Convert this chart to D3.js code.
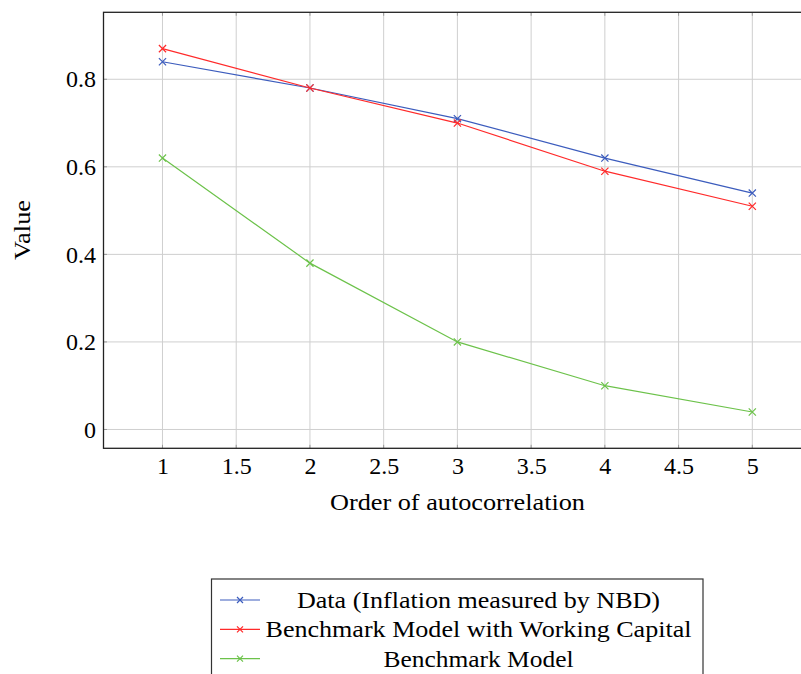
<!DOCTYPE html>
<html>
<head>
<meta charset="utf-8">
<script src="https://cdn.jsdelivr.net/npm/d3@7"></script>
<style>
  html, body { margin: 0; padding: 0; background: #fff; overflow: hidden; }
</style>
</head>
<body>
<svg id="chart" width="801" height="674"></svg>
<script>
// Autocorrelation orders and values of each series
const orders = [1, 2, 3, 4, 5];
const dataSeries = [0.84, 0.78, 0.71, 0.62, 0.54];
const workingCapital = [0.87, 0.78, 0.70, 0.59, 0.51];
const benchmark = [0.62, 0.38, 0.20, 0.10, 0.04];
const seriesNames = [
  "Data (Inflation measured by NBD)",
  "Benchmark Model with Working Capital",
  "Benchmark Model"
];
const seriesColors = ["#3c5cbd", "#ff2a2a", "#6cc24a"];
const xTicks = [1, 1.5, 2, 2.5, 3, 3.5, 4, 4.5, 5];
const yTicks = [0, 0.2, 0.4, 0.6, 0.8];

const series = [dataSeries, workingCapital, benchmark].map((vals, i) => ({
  name: seriesNames[i],
  color: seriesColors[i],
  points: orders.map((o, j) => ({ x: o, y: vals[j] }))
}));

const svg = d3.select("#chart");
const FONT = '"Liberation Serif", serif';
const FS = "24px";

// Plot box; limits are enlarged by 10% of the data range on each side
const box = { left: 103.5, right: 811.3, top: 12.3, bottom: 448.3 };
const allY = series.flatMap(s => s.points.map(p => p.y));
const [yMin, yMax] = d3.extent(allY);
const [xMin, xMax] = d3.extent(orders);
const yPad = (yMax - yMin) * 0.1, xPad = (xMax - xMin) * 0.1;

const x = d3.scaleLinear().domain([xMin - xPad, xMax + xPad]).range([box.left, box.right]);
const y = d3.scaleLinear().domain([yMin - yPad, yMax + yPad]).range([box.bottom, box.top]);

// Grid lines
const grid = svg.append("g").attr("stroke", "#cfcfcf").attr("stroke-width", 1);
grid.selectAll("line.vx").data(xTicks).join("line")
  .attr("x1", d => x(d)).attr("x2", d => x(d))
  .attr("y1", box.top).attr("y2", box.bottom);
grid.selectAll("line.hy").data(yTicks).join("line")
  .attr("x1", box.left).attr("x2", box.right)
  .attr("y1", d => y(d)).attr("y2", d => y(d));

// Inner tick marks on all four sides
const tickLen = 3.5;
const ticks = svg.append("g").attr("stroke", "#9a9a9a").attr("stroke-width", 1);
xTicks.forEach(t => {
  ticks.append("line").attr("x1", x(t)).attr("x2", x(t)).attr("y1", box.bottom).attr("y2", box.bottom - tickLen);
  ticks.append("line").attr("x1", x(t)).attr("x2", x(t)).attr("y1", box.top).attr("y2", box.top + tickLen);
});
yTicks.forEach(t => {
  ticks.append("line").attr("x1", box.left).attr("x2", box.left + tickLen).attr("y1", y(t)).attr("y2", y(t));
  ticks.append("line").attr("x1", box.right).attr("x2", box.right - tickLen).attr("y1", y(t)).attr("y2", y(t));
});

// Axis tick labels via d3 axes (domain and tick lines hidden)
const xAxis = svg.append("g")
  .attr("transform", `translate(0,${box.bottom})`)
  .call(d3.axisBottom(x).tickValues(xTicks).tickSize(0).tickPadding(9).tickFormat(d3.format("")));
xAxis.select(".domain").remove();
xAxis.selectAll("text").attr("dy", "0.71em")
  .style("font-family", FONT).style("font-size", FS).style("fill", "#000");

const yAxis = svg.append("g")
  .attr("transform", `translate(${box.left},0)`)
  .call(d3.axisLeft(y).tickValues(yTicks).tickSize(0).tickPadding(7.5).tickFormat(d3.format("")));
yAxis.select(".domain").remove();
yAxis.selectAll("text")
  .style("font-family", FONT).style("font-size", FS).style("fill", "#000");

// Frame
svg.append("rect")
  .attr("x", box.left).attr("y", box.top)
  .attr("width", box.right - box.left).attr("height", box.bottom - box.top)
  .attr("fill", "none").attr("stroke", "#222").attr("stroke-width", 1.3);

// Series lines and cross markers
const line = d3.line().x(d => x(d.x)).y(d => y(d.y));
const cross = 3.6;
series.forEach(s => {
  svg.append("path").datum(s.points)
    .attr("d", line).attr("fill", "none")
    .attr("stroke", s.color).attr("stroke-width", 1.2);
  svg.append("g").selectAll("path").data(s.points).join("path")
    .attr("d", d => {
      const cx = x(d.x), cy = y(d.y);
      return `M${cx - cross},${cy - cross}L${cx + cross},${cy + cross}M${cx - cross},${cy + cross}L${cx + cross},${cy - cross}`;
    })
    .attr("stroke", s.color).attr("stroke-width", 1.2);
});

// Axis titles
svg.append("text")
  .attr("x", 457.5).attr("y", 510)
  .attr("text-anchor", "middle")
  .style("font-family", FONT).style("font-size", FS)
  .attr("textLength", 255).attr("lengthAdjust", "spacingAndGlyphs")
  .text("Order of autocorrelation");
svg.append("text")
  .attr("transform", "translate(30,230) rotate(-90)")
  .attr("text-anchor", "middle")
  .style("font-family", FONT).style("font-size", FS)
  .attr("textLength", 60).attr("lengthAdjust", "spacingAndGlyphs")
  .text("Value");

// Legend
const legend = { left: 211.5, right: 703, top: 579, rowH: 29.3, textX: 478.5 };
const legendWidths = [363, 426, 190];
svg.append("rect")
  .attr("x", legend.left).attr("y", legend.top)
  .attr("width", legend.right - legend.left).attr("height", 120)
  .attr("fill", "#fff").attr("stroke", "#333").attr("stroke-width", 1.2);
series.forEach((s, i) => {
  const cy = legend.top + 21 + i * legend.rowH;
  svg.append("line")
    .attr("x1", 220).attr("x2", 260).attr("y1", cy).attr("y2", cy)
    .attr("stroke", s.color).attr("stroke-width", 1.2);
  svg.append("path")
    .attr("d", `M${240 - 3},${cy - 3}L${240 + 3},${cy + 3}M${240 - 3},${cy + 3}L${240 + 3},${cy - 3}`)
    .attr("stroke", s.color).attr("stroke-width", 1.2);
  svg.append("text")
    .attr("x", legend.textX).attr("y", cy).attr("dy", "0.33em")
    .attr("text-anchor", "middle")
    .style("font-family", FONT).style("font-size", FS)
    .attr("textLength", legendWidths[i]).attr("lengthAdjust", "spacingAndGlyphs")
    .text(s.name);
});
</script>
</body>
</html>
